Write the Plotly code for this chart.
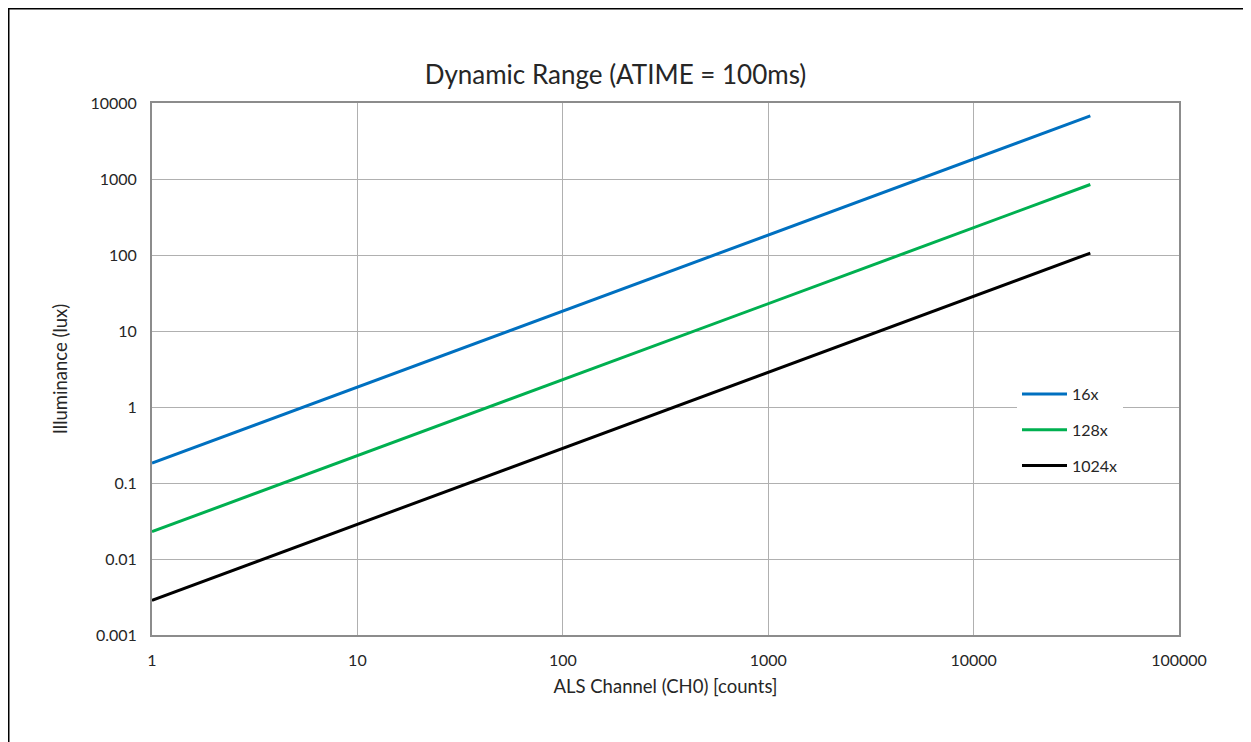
import plotly.graph_objects as go

counts = [1, 10, 100, 1000, 10000, 37000]
lux_16x = [0.183, 1.83, 18.3, 183, 1830, 6770]
lux_128x = [0.0229, 0.229, 2.29, 22.9, 229, 846]
lux_1024x = [0.00286, 0.0286, 0.286, 2.86, 28.6, 106]
series_names = ["16x", "128x", "1024x"]
series_colors = ["#0070C0", "#00B050", "#000000"]

x_ticks = [1, 10, 100, 1000, 10000, 100000]
x_tick_labels = ["1", "10", "100", "1000", "10000", "100000"]
y_ticks = [0.001, 0.01, 0.1, 1, 10, 100, 1000, 10000]
y_tick_labels = ["0.001", "0.01", "0.1", "1", "10", "100", "1000", "10000"]

FONT = "Lato"
TXT = "#262626"
W, H = 1251, 742
PL, PT, PR, PB = 144, 95, 1171, 627   # plot area in figure px
PW, PH = PR - PL, PB - PT

fig = go.Figure()
for name, ys, col in zip(series_names, [lux_16x, lux_128x, lux_1024x], series_colors):
    fig.add_trace(go.Scatter(x=counts, y=ys, mode="lines", name=name,
                             legendgroup=name,
                             line=dict(color=col, width=3)))

axis_common = dict(type="log", showgrid=True, gridcolor="#B0B0B0", gridwidth=1,
                   showline=True, linecolor="#8C8C8C", linewidth=2, mirror=True,
                   ticks="", zeroline=False,
                   tickfont=dict(family=FONT, size=16, color=TXT))

fig.update_layout(
    width=W, height=H,
    margin=dict(l=PL, r=W - PR, t=PT, b=H - PB),
    paper_bgcolor="white", plot_bgcolor="white",
    title=dict(text="Dynamic Range (ATIME = 100ms)", x=607.5 / W, xanchor="center",
               y=1 - 67 / H, yanchor="middle",
               font=dict(family=FONT, size=26, color=TXT)),
    xaxis=dict(range=[0, 5], tickvals=x_ticks, ticktext=x_tick_labels,
               ticklabelstandoff=10,
               title=dict(text="ALS Channel (CH0) [counts]", standoff=12,
                          font=dict(family=FONT, size=18.5, color=TXT)),
               **axis_common),
    yaxis=dict(range=[-3, 4], tickvals=y_ticks, ticktext=y_tick_labels,
               ticklabelstandoff=10,
               title=dict(text="Illuminance (lux)", standoff=18,
                          font=dict(family=FONT, size=18.5, color=TXT)),
               **axis_common),
    legend=dict(x=(1009 - PL) / PW, y=(PB - 369) / PH, xanchor="left", yanchor="top",
                bgcolor="white", borderwidth=0, tracegroupgap=12, itemwidth=45,
                font=dict(family=FONT, size=16, color=TXT)),
    showlegend=True,
)

# outer chart frame
fig.add_shape(type="rect", xref="paper", yref="paper",
              x0=(0.5 - PL) / PW, x1=(1241 - PL) / PW,
              y0=-0.5, y1=(PB - 0.5) / PH,
              line=dict(color="black", width=2), fillcolor="rgba(0,0,0,0)", layer="above")

fig.write_html("out.html")
